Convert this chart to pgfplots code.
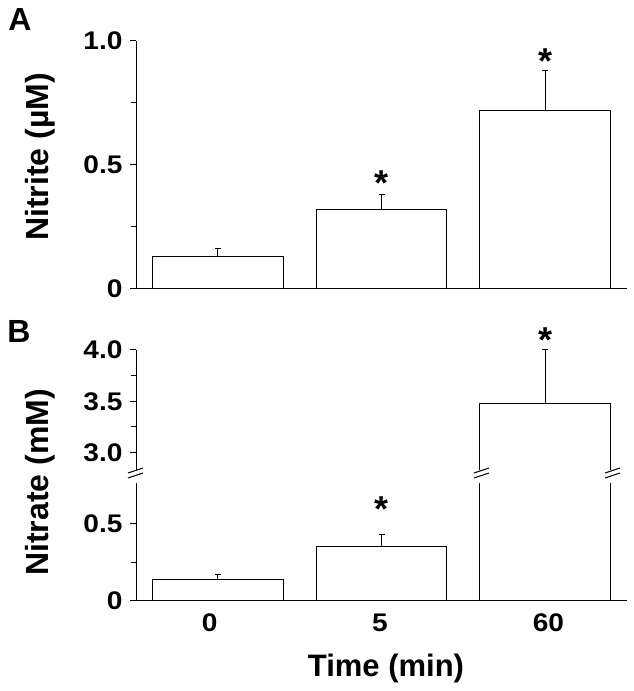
\documentclass[border=0pt]{standalone}
\usepackage{fontspec}
\setmainfont{Liberation Sans}
\newfontfamily\tickfont{Liberation Sans}[FakeStretch=1.1]
\usepackage{pgfplots}
\pgfplotsset{compat=1.18}
\pgfplotsset{
  base/.style={
    scale only axis, width=491pt,
    xmin=-0.5, xmax=2.5,
    anchor=south west,
    clip mode=individual,
    tick align=outside,
    major tick length=6pt, minor tick length=5pt,
    every tick/.style={black, line width=1pt},
    axis line style={black, line width=1pt, -},
    y tick label style={font=\tickfont\fontsize{25.5}{25.5}\selectfont\bfseries, xshift=-4pt},
    x tick label style={font=\tickfont\fontsize{25.5}{25.5}\selectfont\bfseries},
    /pgf/number format/assume math mode=true,
  },
  barstyle/.style={ybar, bar width=0.8, fill=white, draw=black, line width=1pt,
    error bars/.cd, y dir=plus, y explicit,
    error bar style={line width=1pt},
    error mark options={line width=1pt, mark size=3pt, rotate=90}},
}
\tikzset{asterisk/.style={font=\fontsize{36}{36}\selectfont\bfseries, inner sep=0pt, yshift=-6pt}}
\begin{document}
\begin{tikzpicture}[x=1pt,y=1pt]
\useasboundingbox (0,0) rectangle (634,691);
% Panel A
\begin{axis}[base, at={(136pt,402pt)}, height=248pt,
  ymin=0, ymax=1,
  axis x line*=bottom, axis y line*=left,
  xtick=\empty,
  ytick={0,0.5,1}, yticklabels={0,0.5,1.0}, minor ytick={0.25,0.75}]
\addplot[barstyle] table[x=x, y=y, y error=e] {
x y e
0 0.132 0.031
1 0.320 0.062
2 0.720 0.160
};
\node[asterisk] at (axis cs:1,0.452) {*};
\node[asterisk] at (axis cs:2,0.944) {*};
\end{axis}
% Panel B upper
\begin{axis}[base, at={(136pt,221pt)}, height=120pt,
  ymin=2.83, ymax=4.0,
  axis x line=none, axis y line*=left,
  xtick=\empty,
  ytick={3,3.5,4}, yticklabels={3.0,3.5,4.0}, minor ytick={3.25,3.75}]
\addplot[draw=none, fill=white, ybar, bar width=0.8] table[x=x, y=y] {
x y
2 3.477
};
\addplot[black, line width=1pt, mark=none] table[x=x, y=y] {
x y
1.6 2.5
1.6 3.477
2.4 3.477
2.4 2.5
};
\addplot[black, line width=1pt, mark=none, error bars/.cd, y dir=plus, y explicit,
    error bar style={line width=1pt},
    error mark options={line width=1pt, mark size=3pt, rotate=90}] table[x=x, y=y, y error=e] {
x y e
2 3.477 0.523
};
\node[asterisk] at (axis cs:2,4.156) {*};
\end{axis}
% Panel B lower
\begin{axis}[base, at={(136pt,90pt)}, height=117.7pt,
  ymin=0, ymax=0.76,
  axis x line*=bottom, axis y line*=left,
  xtick={-0.05,0.99,2.02}, xticklabels={0,5,60},
  x tick style={draw=none},
  x tick label style={yshift=-3pt},
  ytick={0,0.5}, yticklabels={0,0.5}, minor ytick={0.25}]
\addplot[barstyle] table[x=x, y=y, y error=e] {
x y e
0 0.140 0.033
1 0.355 0.075
};
\addplot[ybar, bar width=0.8, fill=white, draw=black, line width=1pt] table[x=x, y=y] {
x y
2 3.477
};
\node[asterisk] at (axis cs:1,0.633) {*};
\end{axis}
% break marks
\draw[line width=1pt] (128,213) -- (143,218);
\draw[line width=1pt] (128,218) -- (143,223);
\draw[line width=1pt] (474,213) -- (489,218);
\draw[line width=1pt] (474,218) -- (489,223);
\draw[line width=1pt] (605,213) -- (620,218);
\draw[line width=1pt] (605,218) -- (620,223);
% labels
\node[rotate=90, font=\fontsize{32}{32}\selectfont\bfseries] at (40,534) {Nitrite (µM)};
\node[rotate=90, font=\fontsize{32}{32}\selectfont\bfseries] at (40,208.5) {Nitrate (mM)};
\node[font=\fontsize{31}{31}\selectfont\bfseries] at (386,23) {Time (min)};
\node[font=\fontsize{32}{32}\selectfont\bfseries, inner sep=0pt] at (20,671.5) {A};
\node[font=\fontsize{32}{32}\selectfont\bfseries, inner sep=0pt] at (19,360) {B};
\end{tikzpicture}
\end{document}
